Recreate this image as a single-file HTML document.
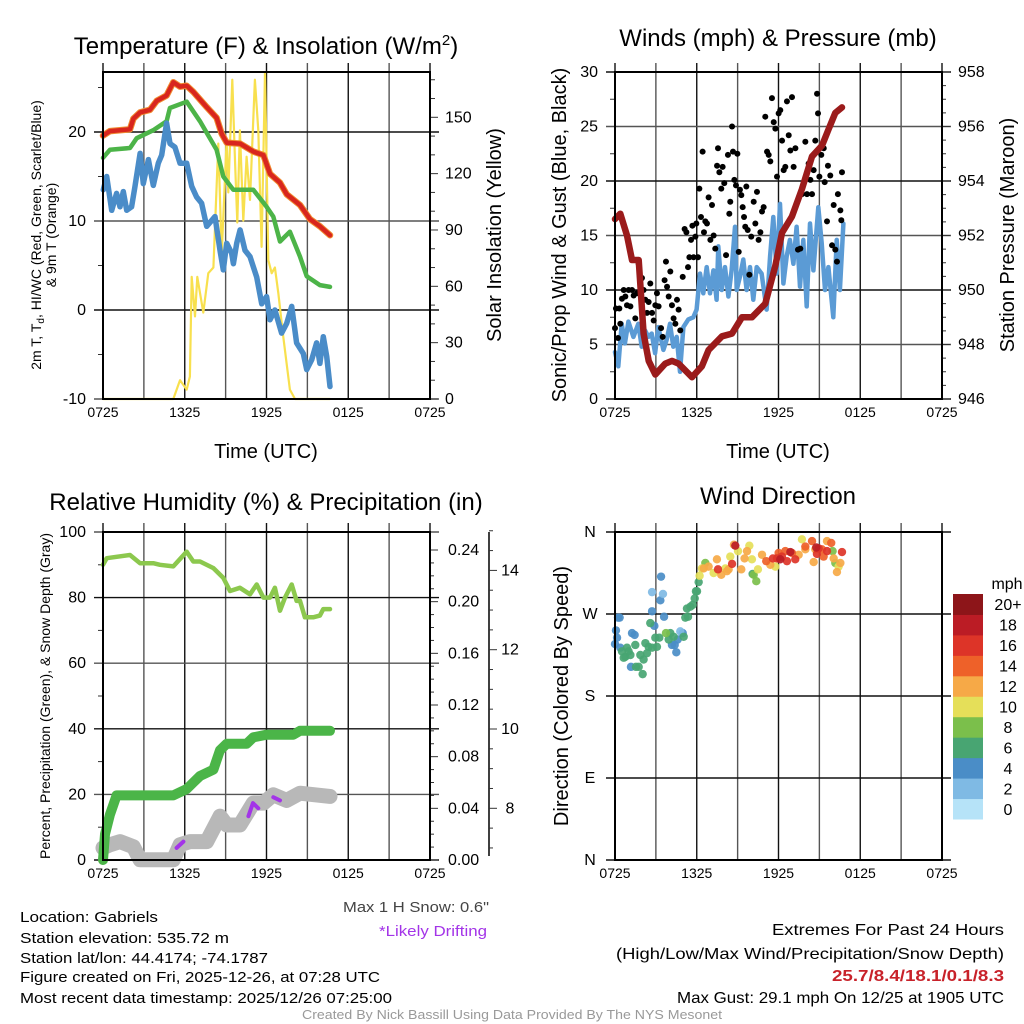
<!DOCTYPE html>
<html><head><meta charset="utf-8"><style>
html,body{margin:0;padding:0;background:#fff;}
svg{display:block;font-family:"Liberation Sans",sans-serif;}
</style></head><body>
<svg id="chart" width="1024" height="1024" viewBox="0 0 1024 1024" xmlns="http://www.w3.org/2000/svg">
<g id="layer"></g>
<text x="266" y="54" font-size="24" text-anchor="middle">Temperature (F) &amp; Insolation (W/m<tspan dy="-9" font-size="15">2</tspan><tspan dy="9">)</tspan></text>
<text x="778" y="46" font-size="24" text-anchor="middle">Winds (mph) &amp; Pressure (mb)</text>
<text x="266" y="510" font-size="24" text-anchor="middle">Relative Humidity (%) &amp; Precipitation (in)</text>
<text x="778" y="504" font-size="24" text-anchor="middle">Wind Direction</text>
<text x="266" y="458" font-size="20" text-anchor="middle">Time (UTC)</text>
<text x="778" y="458" font-size="20" text-anchor="middle">Time (UTC)</text>
<g font-size="14" text-anchor="middle">
<text transform="translate(41,235) rotate(-90)">2m T, T<tspan font-size="10" dy="3">d</tspan><tspan dy="-3">, HI/WC (Red, Green, Scarlet/Blue)</tspan></text>
<text transform="translate(56,235) rotate(-90)">&amp; 9m T (Orange)</text>
</g>
<text transform="translate(501,235) rotate(-90)" font-size="20" text-anchor="middle">Solar Insolation (Yellow)</text>
<text transform="translate(566,235) rotate(-90)" font-size="20" text-anchor="middle">Sonic/Prop Wind &amp; Gust (Blue, Black)</text>
<text transform="translate(1014,235) rotate(-90)" font-size="20" text-anchor="middle">Station Pressure (Maroon)</text>
<text transform="translate(50,696) rotate(-90)" font-size="14" text-anchor="middle">Percent, Precipitation (Green), &amp; Snow Depth (Gray)</text>
<text transform="translate(568,696) rotate(-90)" font-size="20" text-anchor="middle">Direction (Colored By Speed)</text>
<text x="1007" y="589" font-size="16" text-anchor="middle">mph</text>
<g font-size="15">
<text x="20" y="922" textLength="138" lengthAdjust="spacingAndGlyphs">Location: Gabriels</text>
<text x="20" y="943" textLength="209" lengthAdjust="spacingAndGlyphs">Station elevation: 535.72 m</text>
<text x="20" y="963" textLength="248" lengthAdjust="spacingAndGlyphs">Station lat/lon: 44.4174; -74.1787</text>
<text x="20" y="982" textLength="360" lengthAdjust="spacingAndGlyphs">Figure created on Fri, 2025-12-26, at 07:28 UTC</text>
<text x="20" y="1003" textLength="372" lengthAdjust="spacingAndGlyphs">Most recent data timestamp: 2025/12/26 07:25:00</text>
</g>
<text x="489" y="912" font-size="15" fill="#444" text-anchor="end" textLength="146" lengthAdjust="spacingAndGlyphs">Max 1 H Snow: 0.6"</text>
<text x="487" y="936" font-size="15" fill="#a334e8" text-anchor="end" textLength="108" lengthAdjust="spacingAndGlyphs">*Likely Drifting</text>
<g font-size="16" text-anchor="end">
<text x="1004" y="935" textLength="232" lengthAdjust="spacingAndGlyphs">Extremes For Past 24 Hours</text>
<text x="1004" y="959" textLength="388" lengthAdjust="spacingAndGlyphs">(High/Low/Max Wind/Precipitation/Snow Depth)</text>
<text x="1004" y="981" fill="#c8222a" font-weight="bold" textLength="172" lengthAdjust="spacingAndGlyphs">25.7/8.4/18.1/0.1/8.3</text>
<text x="1004" y="1003" textLength="327" lengthAdjust="spacingAndGlyphs">Max Gust: 29.1 mph On 12/25 at 1905 UTC</text>
</g>
<text x="512" y="1019" font-size="13" fill="#999" text-anchor="middle" textLength="420" lengthAdjust="spacingAndGlyphs">Created By Nick Bassill Using Data Provided By The NYS Mesonet</text>
</svg>
<script>
// ---------- data (hours since 0725 UTC) ----------
const timeLabels = ["0725","1325","1925","0125","0725"];
const redHours = [0,0.51,1.98,2.23,2.72,3.45,3.94,4.67,5.16,5.65,6.14,6.63,7.61,8.34,8.71,9.08,10.06,11.04,11.77,12.26,12.99,13.48,14.46,15.19,15.92,16.66];
const redTemp = [19.6,20.1,20.3,21.5,22.2,22.5,23.5,24.1,25.6,25.1,25.2,24.5,22.8,21.6,19.8,18.8,18.7,17.8,17.4,15.3,14.3,13,11.8,10.2,9.4,8.4];
const greenHours = [0,0.51,1.98,2.47,3.69,4.67,4.91,6.14,7.12,8.34,8.83,9.56,11.03,12.01,12.5,12.99,13.72,14.46,14.95,15.92,16.66];
const greenTemp = [17.1,18,18.2,19.3,20.2,21.2,22.7,23.4,21.2,18,15,13.5,13.5,11.6,10.5,7.7,8.8,6,3.8,2.8,2.6];
const blueHours = [0.02,0.27,0.64,1.0,1.25,1.49,1.74,2.1,2.35,2.72,2.96,3.33,3.69,4.06,4.31,4.67,4.92,5.28,5.65,6.14,6.51,6.87,7.24,7.61,8.22,8.59,8.83,9.08,9.44,9.57,9.81,10.06,10.42,10.79,11.28,11.65,12.01,12.26,12.62,13.11,13.48,13.85,14.21,14.7,14.95,15.32,15.68,15.92,16.17,16.42,16.66];
const blueTemp = [13.5,15.0,11.2,13.1,11.6,13.3,11.2,11.6,13.9,17.6,14.2,16.9,14.0,16.5,17.4,21.0,18.7,18.3,16.5,16.5,13.9,12.7,12.0,9.4,10.5,6.7,4.5,7.5,6.4,5.2,7.5,9.0,6.7,6.0,3.7,0.7,1.5,-1.1,0.0,-2.6,-1.5,0.4,-3.7,-4.9,-6.7,-5.6,-3.7,-6.0,-3.0,-5.2,-8.6];
const solarHours = [0,5.16,5.65,6.14,6.38,6.51,6.75,6.92,7.36,7.73,8.1,8.46,8.71,9.07,9.2,9.49,9.69,9.86,10.05,10.3,10.54,10.79,11.15,11.4,11.64,11.89,12.13,12.38,12.62,12.87,13.23,13.72,14.09,16.66];
const solarWm2 = [0,0,10,5,12,65,44,65,46,67,70,136,77,138,110,170,127,94,143,95,129,106,170,143,81,174,74,67,70,56,33,5,0,0];
const windHours = [0,0.24,0.49,0.73,0.98,1.35,1.71,1.96,2.2,2.45,2.69,2.94,3.18,3.55,3.79,4.04,4.28,4.53,4.77,5.02,5.38,5.75,5.99,6.24,6.48,6.73,6.97,7.22,7.46,7.58,7.83,8.07,8.32,8.56,8.81,8.93,9.17,9.42,9.66,9.91,10.15,10.4,10.76,11.13,11.38,11.62,11.87,12.11,12.36,12.6,12.84,13.09,13.33,13.58,13.82,14.07,14.31,14.56,14.92,15.17,15.41,15.66,16.02,16.27,16.51,16.76];
const windSpeed = [4.3,3.0,6.9,5.1,7.1,5.7,6.9,4.8,6.3,5.7,6.0,4.2,6.6,4.5,5.4,6.9,4.8,5.7,2.5,6.6,7.3,7.5,8.2,11.5,9.7,12.1,9.7,11.8,9.1,14.0,10.0,12.1,9.4,11.8,15.8,10.0,11.2,12.8,10.0,12.1,9.1,12.1,11.5,8.2,13.1,16.7,11.5,17.9,10.6,13.1,14.6,12.4,15.8,10.3,14.6,8.5,16.1,11.8,17.6,14.3,10.0,12.1,7.5,14.6,10.0,16.1];
const presHours = [0,0.39,0.88,1.25,1.74,2.1,2.47,2.96,3.69,4.18,4.67,5.65,6.38,6.87,7.85,8.59,9.32,10.05,11.03,11.77,12.26,12.99,13.72,14.46,15.19,15.68,16.17,16.66];
const presMb = [952.6,952.8,952.0,951.1,951.1,948.4,947.4,946.9,947.3,947.4,947.3,946.8,947.2,947.8,948.3,948.4,949.0,949.0,949.5,950.9,952.1,952.7,953.7,954.9,955.3,955.9,956.5,956.7];
const gustHours = [0,0.07,0.22,0.32,0.51,0.39,0.64,0.76,0.88,1.0,1.13,1.25,1.37,1.49,1.61,1.74,1.98,2.1,2.23,2.35,2.47,2.59,2.72,2.84,2.96,3.08,3.2,3.38,3.5,3.64,3.74,3.82,3.94,4.06,4.18,4.3,4.43,4.55,4.67,4.79,4.97,5.11,5.24,5.36,5.46,5.58,5.68,5.77,5.9,5.97,6.09,6.19,6.31,6.43,6.53,6.63,6.75,6.87,7.0,7.12,7.24,7.36,7.49,7.56,7.66,7.8,7.9,8.02,8.15,8.29,8.39,8.46,8.59,8.66,8.76,8.88,8.98,9.08,9.17,9.27,9.37,9.47,9.56,9.64,9.74,9.86,10.0,10.18,10.3,10.42,10.54,10.67,10.79,10.91,11.03,11.16,11.28,11.4,11.52,11.65,11.77,11.89,12.01,12.13,12.26,12.38,12.5,12.62,12.75,12.87,12.99,13.11,13.24,13.43,13.6,13.72,13.97,14.09,14.21,14.34,14.46,14.58,14.7,14.83,14.9,15.0,15.14,15.32,15.39,15.56,15.63,15.8,15.93,16.05,16.17,16.29,16.36,16.54,16.61,16.66];
const gustSpeed = [6.5,8.3,5.6,8.3,9.2,6.9,10.0,9.4,8.6,10.0,8.5,10.0,9.5,7.4,9.7,12.4,11.1,10.0,9.1,7.9,8.9,10.6,7.9,7.2,8.6,9.7,8.5,6.5,5.7,10.9,12.6,10.3,9.4,11.7,8.6,7.4,6.9,9.1,8.2,6.3,11.2,15.6,15.3,12.1,13.0,14.6,15.9,13.0,14.9,16.1,13.0,19.3,16.7,22.7,15.3,16.3,16.1,18.5,14.6,17.8,15.0,13.8,21.4,23.0,20.8,19.3,21.3,19.8,13.2,22.4,17.0,18.1,25.0,22.7,20.1,19.6,22.5,13.5,19.2,18.7,17.6,16.7,15.8,19.5,15.5,11.4,14.9,18.1,16.1,19.0,14.6,15.3,17.2,17.6,25.9,22.7,22.4,21.8,27.6,25.4,24.8,20.4,26.2,26.5,23.7,21.0,21.3,27.3,24.2,22.8,27.7,21.3,23.0,13.7,13.8,18.8,23.6,18.8,21.6,20.1,18.8,21.0,23.7,28.0,26.2,20.4,22.4,23.0,19.9,16.3,21.4,20.5,14.1,17.8,13.7,12.6,18.8,17.3,16.4,20.8];
const rhHours = [0,0.27,1.98,2.72,3.69,4.18,5.16,6.14,6.63,7.12,8.1,8.83,9.32,10.05,10.79,11.28,11.77,12.26,12.62,12.99,13.36,13.85,14.21,14.46,14.82,15.43,15.92,16.17,16.66];
const rhPct = [90,92,93,90.5,90.5,90,89.5,94,91,91,89,86,82,83,81,84,80,80,83,76,80,84,79,79,74,74,74.5,76.5,76.5];
const precipHours = [0,0.15,0.51,1.0,5.16,6.14,6.63,7.12,8.1,8.59,9.08,10.54,11.03,12.01,13.97,14.46,16.66];
const precipIn = [0,0.02,0.035,0.05,0.05,0.055,0.06,0.065,0.07,0.085,0.09,0.09,0.095,0.097,0.097,0.1,0.1];
const snowHours = [0,0.51,1.25,2.23,2.72,5.16,5.65,6.38,7.61,8.59,9.08,10.05,11.03,11.77,12.5,13.48,14.46,16.66];
const snowIn = [7.0,7.08,7.16,7.03,6.7,6.7,7.08,7.16,7.16,7.8,7.58,7.58,8.13,8.13,8.34,8.2,8.38,8.3];
const driftHours = [[5.4,5.9],[10.67,11.0,11.4],[12.5,12.99]];
const driftIn = [[7.0,7.16],[7.8,8.13,8.0],[8.28,8.2]];
const dirHours = [0,0.07,0.22,0.34,0.15,0.39,1.25,1.44,1.17,2.72,2.89,3.33,3.38,3.6,4.18,4.38,4.5,4.6,4.97,2.72,3.52,4.79,0.51,0.76,0.88,1.0,0.64,1.13,1.49,1.54,1.74,2.03,1.86,2.1,2.23,2.35,2.47,2.59,2.72,2.96,3.08,3.25,3.94,4.06,4.3,5.04,5.16,5.36,5.28,5.53,5.7,5.85,5.94,6.02,6.14,10.1,3.74,6.63,10.37,15.97,16.17,10.18,6.21,6.38,7.24,8.1,8.46,9.03,9.86,10.05,10.49,11.77,13.72,16.41,6.51,6.87,7.48,7.8,8.22,8.34,8.73,9.27,9.51,9.69,10.79,11.4,13.48,13.97,14.58,15.56,16.05,16.29,16.54,14.7,11.1,12.01,12.5,12.99,13.97,14.46,15.19,15.87,15.31,7.56,8.59,11.59,11.89,12.25,12.62,13.23,14.82,14.95,15.56,16.66,8.83,12.13,12.87,14.77];
const dirDeg = [237,252,266,266,244,233,249,247,212,273,257,285,311,267,236,236,228,242,249,294,292,251,229,223,233,229,222,225,236,212,212,204,225,220,238,227,234,260,233,244,234,244,242,249,245,245,266,267,276,278,280,287,295,295,305,314,249,326,306,339,326,313,312,320,315,320,333,339,345,330,319,322,352,322,320,322,330,313,317,319,346,319,331,339,335,324,335,341,327,350,331,316,326,341,328,337,339,337,344,350,341,348,333,319,325,331,331,333,328,330,336,342,339,338,345,330,338,343];
const dirSpeed = [4.5,4.5,4.5,4.5,4.5,4.5,4.5,4.5,4.5,4.5,4.5,4.5,4.5,4.5,4.5,4.5,4.5,4.5,4.5,2.5,2.5,2.5,6.5,6.5,6.5,6.5,6.5,6.5,6.5,6.5,6.5,6.5,6.5,6.5,6.5,6.5,6.5,6.5,6.5,6.5,6.5,6.5,6.5,6.5,6.5,6.5,6.5,6.5,6.5,6.5,6.5,6.5,6.5,6.5,6.5,6.5,8.5,8.5,8.5,8.5,8.5,8.5,10.5,10.5,10.5,10.5,10.5,10.5,10.5,10.5,10.5,10.5,10.5,10.5,12.5,12.5,12.5,12.5,12.5,12.5,12.5,12.5,12.5,12.5,12.5,12.5,12.5,12.5,12.5,12.5,12.5,12.5,12.5,12.5,14.5,14.5,14.5,14.5,14.5,14.5,14.5,14.5,14.5,16.5,16.5,16.5,16.5,16.5,16.5,16.5,16.5,16.5,16.5,16.5,18.5,18.5,18.5,18.5];
const speedLabels = ["0","2","4","6","8","10","12","14","16","18","20+"];
const speedColors = ["#b6e3f8","#7fbae4","#4a8dc7","#48a572","#7bbf4b","#e5df59","#f6a947","#ee6129","#dd3428","#bb1c25","#8d1519"];
const dirLabels = ["N","E","S","W","N"];

// ---------- helpers ----------
const NS = "http://www.w3.org/2000/svg";
const layer = document.getElementById("layer");
function mk(tag, attrs, parent) {
  const e = document.createElementNS(NS, tag);
  for (const k in attrs) e.setAttribute(k, attrs[k]);
  (parent || layer).appendChild(e);
  return e;
}
function lin(d0, d1, r0, r1) { return v => r0 + (v - d0) * (r1 - r0) / (d1 - d0); }
const P1 = {x0:103,x1:430,y0:72,y1:399};
const P2 = {x0:615,x1:942,y0:72,y1:399};
const P3 = {x0:103,x1:430,y0:532,y1:860};
const P4 = {x0:615,x1:942,y0:532,y1:860};

function frame(P, name) {
  const g = mk("g", {});
  
  
  const xs = lin(0, 24, P.x0, P.x1);
  for (let h = 0; h <= 24; h += 3) {
    const x = xs(h);
    mk("line", {x1:x, x2:x, y1:P.y0-9, y2:P.y1, stroke:(h%6===0)?"#111":"#555", "stroke-width":1.4}, g);
  }
  for (let i = 0; i < timeLabels.length; i++) {
    const t = mk("text", {x:xs(i*6), y:P.y1+18, "font-size":14, "text-anchor":"middle"}, g);
    t.textContent = timeLabels[i];
    
    
  }
  return g;
}
function hline(g, P, y, dark) {
  mk("line", {x1:P.x0-9, x2:P.x1+9, y1:y, y2:y, stroke:dark?"#111":"#555", "stroke-width":1.4}, g);
}
function border(P, name) {
  const r = mk("rect", {x:P.x0, y:P.y0, width:P.x1-P.x0, height:P.y1-P.y0, fill:"none", stroke:"#000", "stroke-width":2});
  
  
}
function label(g, x, y, txt, anchor, size) {
  const t = mk("text", {x:x, y:y+5, "font-size":size||16, "text-anchor":anchor}, g);
  t.textContent = txt;
  
  
}
function minor(g, x, y, dir, len) {
  mk("line", {x1:x, x2:x+dir*len, y1:y, y2:y, stroke:"#333", "stroke-width":1}, g);
}
function path(xsArr, ysArr, xs, ys, stroke, width, name) {
  let d = "";
  for (let i = 0; i < xsArr.length; i++) d += (i ? "L" : "M") + xs(xsArr[i]).toFixed(1) + "," + ys(ysArr[i]).toFixed(1);
  const p = mk("path", {d:d, fill:"none", stroke:stroke, "stroke-width":width, "stroke-linejoin":"round", "stroke-linecap":"round"});
  
  
  return p;
}

// ---------- Panel 1: temperature ----------
(function(){
  const P = P1, g = frame(P, 'temperature');
  const xs = lin(0, 24, P.x0, P.x1);
  const yT = lin(-10, 20, 399, 132);
  const yS = lin(0, 150, 399, 117.3);
  for (let v = -10; v <= 20; v += 10) { hline(g, P, yT(v), v % 20 === 0); label(g, 86, yT(v), String(v), "end"); }
  for (let v = -5; v <= 25; v += 10) minor(g, P.x0, yT(v), -1, 5);
  for (let v = 0; v <= 170; v += 10) minor(g, P.x1, yS(v), 1, v % 30 === 0 ? 8 : 5);
  for (let v = 0; v <= 150; v += 30) label(g, 445, yS(v), String(v), "start");
  path(solarHours, solarWm2, xs, yS, "#f8e04e", 2.2, 'solar-insolation-line');
  path(greenHours, greenTemp, xs, yT, "#4cb448", 4.5, 'green-temperature-line');
  path(blueHours, blueTemp, xs, yT, "#4a8cc8", 5.5, 'blue-temperature-line');
  path(redHours, redTemp, xs, yT, "#f08a30", 6.5, 'orange-9m-temperature-line');
  path(redHours, redTemp, xs, yT, "#d8261e", 4.5, 'red-temperature-line');
  border(P, 'temperature');
})();

// ---------- Panel 2: wind & pressure ----------
(function(){
  const P = P2, g = frame(P, 'wind');
  const xs = lin(0, 24, P.x0, P.x1);
  const yW = lin(0, 30, 399, 72);
  const yP = lin(946, 958, 399, 72);
  for (let v = 0; v <= 30; v += 5) { hline(g, P, yW(v), v % 10 === 0); label(g, 598, yW(v), String(v), "end"); }
  for (let v = 2.5; v < 30; v += 5) minor(g, P.x0, yW(v), -1, 5);
  for (let v = 946; v <= 958; v += 0.5) minor(g, P.x1, yP(v), 1, v % 2 === 0 ? 8 : 4);
  for (let v = 946; v <= 958; v += 2) label(g, 958, yP(v), String(v), "start");
  path(windHours, windSpeed, xs, yW, "#5b9bd5", 4.5, 'sustained-wind-line');
  const dg = mk("g", {});
  
  
  for (let i = 0; i < gustHours.length; i++) {
    const c = mk("circle", {cx:xs(gustHours[i]), cy:yW(gustSpeed[i]), r:3, fill:"#000"}, dg);
    
    
  }
  path(presHours, presMb, xs, yP, "#9b1b1b", 6.5, 'pressure-line');
  border(P, 'wind');
})();

// ---------- Panel 3: RH & precipitation ----------
(function(){
  const P = P3, g = frame(P, 'humidity');
  const xs = lin(0, 24, P.x0, P.x1);
  const yR = lin(0, 100, 860, 532);
  const yPr = lin(0, 0.24, 860, 550);
  const ySn = lin(8, 10, 808.3, 729);
  for (let v = 0; v <= 100; v += 20) { hline(g, P, yR(v), v % 40 === 0); label(g, 86, yR(v), String(v), "end"); }
  for (let v = 10; v < 100; v += 20) minor(g, P.x0, yR(v), -1, 5);
  for (let v = 0; v <= 0.25; v += 0.01) minor(g, P.x1, yPr(v), 1, Math.round(v*100) % 4 === 0 ? 8 : 4);
  for (let v = 0; v <= 0.241; v += 0.04) label(g, 448, yPr(v), v.toFixed(2), "start");
  mk("line", {x1:489, x2:489, y1:532, y2:856, stroke:"#000", "stroke-width":1.5}, g);
  for (let v = 7; v <= 15; v += 0.5) minor(g, 489, ySn(v), 1, v % 2 === 0 ? 8 : 4);
  for (let v = 8; v <= 14; v += 2) label(g, 510, ySn(v), String(v), "middle");
  path(snowHours, snowIn, xs, ySn, "#b8b8b8", 15, 'snow-depth-line');
  for (let k = 0; k < driftHours.length; k++) path(driftHours[k], driftIn[k], xs, ySn, "#a334e8", 4, 'drifting-segment');
  path(precipHours, precipIn, xs, yPr, "#4bb548", 10, 'precipitation-line');
  path(rhHours, rhPct, xs, yR, "#8cc84e", 4.5, 'relative-humidity-line');
  border(P, 'humidity');
})();

// ---------- Panel 4: wind direction ----------
(function(){
  const P = P4, g = frame(P, 'direction');
  const xs = lin(0, 24, P.x0, P.x1);
  const yD = lin(0, 360, 860, 532);
  for (let i = 0; i < dirLabels.length; i++) { hline(g, P, yD(i*90), true); label(g, 590, yD(i*90), dirLabels[i], "middle"); }
  const dg = mk("g", {});
  
  
  for (let i = 0; i < dirHours.length; i++) {
    const bin = Math.min(10, Math.floor(dirSpeed[i] / 2));
    const c = mk("circle", {cx:xs(dirHours[i]), cy:yD(dirDeg[i]), r:4.2, fill:speedColors[bin], "fill-opacity":0.92}, dg);
    
    
  }
  border(P, 'direction');
  const cb = mk("g", {});
  
  
  const h = (819 - 594) / speedColors.length;
  for (let i = 0; i < speedColors.length; i++) {
    const y = 819 - (i + 1) * h;
    const r = mk("rect", {x:953, y:y, width:30, height:h+0.5, fill:speedColors[i]}, cb);
    
    
    const t = mk("text", {x:1008, y:y + h/2 + 6, "font-size":16, "text-anchor":"middle"}, cb);
    t.textContent = speedLabels[i];
    
    
  }
})();
</script>
</body></html>
